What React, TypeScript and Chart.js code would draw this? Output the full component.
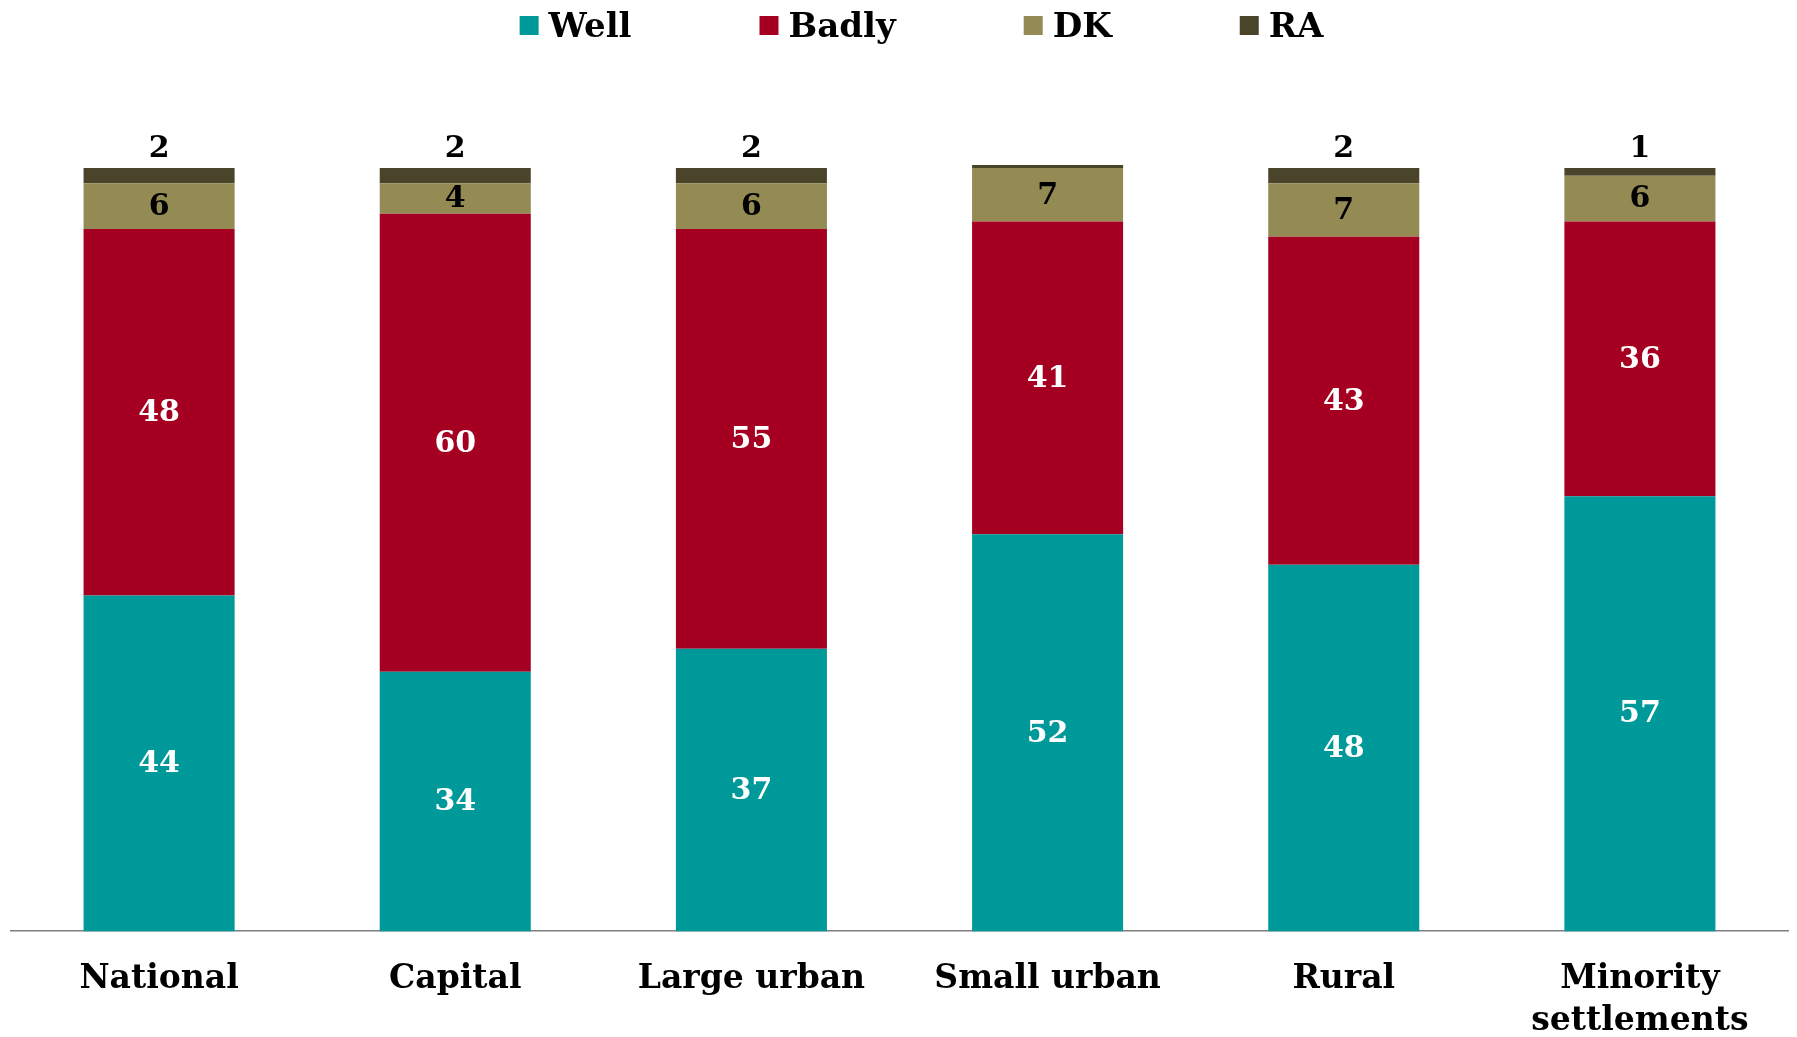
import React, { useEffect, useRef } from "react";
import { Chart, registerables } from "chart.js";

Chart.register(...registerables);

const categories: (string | string[])[] = [
  "National",
  "Capital",
  "Large urban",
  "Small urban",
  "Rural",
  ["Minority", "settlements"],
];
const well = [44, 34, 37, 52, 48, 57];
const badly = [48, 60, 55, 41, 43, 36];
const dk = [6, 4, 6, 7, 7, 6];
const ra = [2, 2, 2, 0.4, 2, 1];

const seriesNames = ["Well", "Badly", "DK", "RA"];
const seriesColors = ["#009999", "#A50021", "#948A54", "#4A452A"];
const labelColors = ["#FFFFFF", "#FFFFFF", "#000000", "#000000"];

const FONT = '"DejaVu Serif", "Liberation Serif", serif';

const valueLabels = {
  id: "valueLabels",
  afterDatasetsDraw(chart: any) {
    const ctx = chart.ctx;
    ctx.save();
    ctx.font = `bold 30px ${FONT}`;
    ctx.textAlign = "center";
    ctx.textBaseline = "middle";
    chart.data.datasets.forEach((ds: any, di: number) => {
      const meta = chart.getDatasetMeta(di);
      meta.data.forEach((el: any, i: number) => {
        const v = ds.data[i];
        if (v < 1) return;
        const { x, y, base } = el.getProps(["x", "y", "base"], true);
        ctx.fillStyle = labelColors[di];
        const txt = String(Math.round(v));
        if (di === 3) {
          ctx.fillText(txt, x, Math.min(y, base) - 19);
        } else {
          ctx.fillText(txt, x, (y + base) / 2 + 1);
        }
      });
    });
    ctx.restore();
  },
};

const topLegend = {
  id: "topLegend",
  afterDraw(chart: any) {
    const ctx = chart.ctx;
    ctx.save();
    ctx.font = `bold 34px ${FONT}`;
    ctx.textBaseline = "alphabetic";
    ctx.textAlign = "left";
    const box = 19;
    const gapText = 10;
    const gapItem = 128;
    const widths = seriesNames.map((n) => box + gapText + ctx.measureText(n).width);
    const total = widths.reduce((a, b) => a + b, 0) + gapItem * (widths.length - 1);
    let x = chart.width / 2 + 23 - total / 2;
    seriesNames.forEach((n, i) => {
      ctx.fillStyle = seriesColors[i];
      ctx.fillRect(x, 8, box, box);
      ctx.fillStyle = "#000000";
      ctx.fillText(n, x + box + gapText, 29);
      x += widths[i] + gapItem;
    });
    ctx.restore();
  },
};

export default function App() {
  const ref = useRef<HTMLCanvasElement | null>(null);
  useEffect(() => {
    if (!ref.current) return;
    const seriesData = [well, badly, dk, ra];
    const chart = new Chart(ref.current, {
      type: "bar",
      data: {
        labels: categories,
        datasets: seriesNames.map((name, i) => ({
          label: name,
          data: seriesData[i],
          backgroundColor: seriesColors[i],
          borderWidth: 0,
          barPercentage: 0.51,
          categoryPercentage: 1,
          clip: false as any,
        })),
      },
      options: {
        animation: false,
        responsive: true,
        maintainAspectRatio: false,
        layout: { padding: { top: 160, left: 3, right: 1, bottom: 0 } },
        plugins: {
          legend: { display: false },
          tooltip: { enabled: false },
        },
        scales: {
          x: {
            stacked: true,
            grid: { display: false },
            border: { display: true, color: "#7F7F7F", width: 1.5 },
            ticks: {
              color: "#000000",
              padding: 19,
              maxRotation: 0,
              autoSkip: false,
              font: { family: FONT, size: 33, weight: "bold", lineHeight: 1.27 },
            },
          },
          y: {
            stacked: true,
            display: false,
            min: 0,
            max: 100,
          },
        },
      },
      plugins: [valueLabels, topLegend],
    });
    return () => chart.destroy();
  }, []);
  return (
    <div style={{ width: "100%", height: 1053, position: "relative" }}>
      <canvas ref={ref} />
    </div>
  );
}
